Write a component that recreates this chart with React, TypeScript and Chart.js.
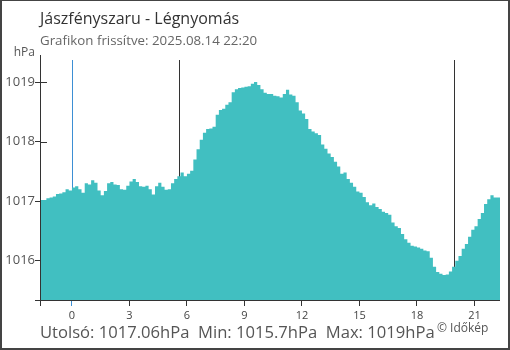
import React, { useEffect, useRef } from "react";
import { Chart, registerables } from "chart.js";

Chart.register(...registerables);

const TITLE = "Jászfényszaru - Légnyomás";
const SUBTITLE = "Grafikon frissítve: 2025.08.14 22:20";
const UNIT = "hPa";
const COPYRIGHT = "© Időkép";

// Hours relative to midnight; the window starts at 22:20 the previous day, 10-minute samples
const START_HOUR = -5 / 3;
const STEP_HOURS = 1 / 6;
const END_HOUR = 22 + 1 / 3;

const PRESSURE = [
  1017.01, 1017.02, 1017.02, 1017.05, 1017.06, 1017.08, 1017.12, 1017.13, 1017.15, 1017.2,
  1017.18, 1017.23, 1017.25, 1017.2, 1017.14, 1017.3, 1017.28, 1017.35, 1017.31, 1017.18,
  1017.1, 1017.17, 1017.3, 1017.32, 1017.28, 1017.27, 1017.2, 1017.19, 1017.26, 1017.33,
  1017.37, 1017.32, 1017.25, 1017.24, 1017.26, 1017.2, 1017.11, 1017.25, 1017.31, 1017.24,
  1017.19, 1017.2, 1017.3, 1017.37, 1017.42, 1017.48, 1017.42, 1017.46, 1017.51, 1017.7,
  1017.87, 1018.03, 1018.15, 1018.21, 1018.22, 1018.25, 1018.45, 1018.53, 1018.55, 1018.62,
  1018.66, 1018.83, 1018.88, 1018.9, 1018.91, 1018.92, 1018.93, 1018.97, 1019.0, 1018.95,
  1018.88, 1018.82, 1018.8, 1018.8, 1018.77, 1018.76, 1018.74, 1018.8, 1018.87, 1018.79,
  1018.77, 1018.66, 1018.52, 1018.47, 1018.38, 1018.21, 1018.17, 1018.14, 1018.11, 1017.95,
  1017.88, 1017.8, 1017.74, 1017.66, 1017.58, 1017.46, 1017.48, 1017.37, 1017.31, 1017.24,
  1017.16, 1017.14, 1017.07, 1016.98, 1016.93, 1016.96, 1016.9, 1016.87, 1016.82, 1016.8,
  1016.77, 1016.64, 1016.58, 1016.55, 1016.45, 1016.36, 1016.3, 1016.25, 1016.24, 1016.22,
  1016.2, 1016.17, 1016.16, 1016.05, 1015.9, 1015.81, 1015.78, 1015.76, 1015.77, 1015.82,
  1015.9, 1016.0, 1016.08, 1016.2, 1016.28, 1016.4, 1016.52, 1016.58, 1016.7, 1016.8,
  1016.95, 1017.03, 1017.1, 1017.06,
];

const X_TICKS = [0, 3, 6, 9, 12, 15, 18, 21];
const Y_TICKS = [1016, 1017, 1018, 1019];
const Y_MIN = 1015.34;
const Y_MAX = 1019.37;

const MARKERS = [
  { hour: 0, color: "#3d8fd4" },
  { hour: 5.57, color: "#333333" },
  { hour: 19.95, color: "#333333" },
];

const LAST = "1017.06";
const MIN = "1015.7";
const MAX = "1019";

const FONT = "'Open Sans', sans-serif";
const FILL = "#41bfc1";
const AXIS = "#333333";

const customAxes = {
  id: "customAxes",
  beforeDatasetsDraw(chart: any) {
    const { ctx, chartArea, scales } = chart;
    const { left, top, bottom } = chartArea;
    ctx.save();
    ctx.lineWidth = 1;
    MARKERS.forEach((m) => {
      const px = Math.round(scales.x.getPixelForValue(m.hour)) + 0.5;
      ctx.strokeStyle = m.color;
      ctx.beginPath();
      ctx.moveTo(px, top);
      ctx.lineTo(px, bottom);
      ctx.stroke();
    });
    ctx.strokeStyle = AXIS;
    Y_TICKS.forEach((v) => {
      const py = Math.round(scales.y.getPixelForValue(v)) + 0.5;
      ctx.beginPath();
      ctx.moveTo(left, py);
      ctx.lineTo(left + 7, py);
      ctx.stroke();
    });
    ctx.restore();
  },
  afterDatasetsDraw(chart: any) {
    const { ctx, chartArea } = chart;
    const { left, right, top, bottom } = chartArea;
    ctx.save();
    ctx.lineWidth = 1;
    ctx.strokeStyle = AXIS;
    const lx = Math.round(left) + 0.5;
    const by = Math.round(bottom) + 0.5;
    ctx.beginPath();
    ctx.moveTo(lx, top - 5);
    ctx.lineTo(lx, by);
    ctx.moveTo(left - 5, by);
    ctx.lineTo(right, by);
    ctx.stroke();
    ctx.restore();
  },
};

export default function App() {
  const canvasRef = useRef<HTMLCanvasElement | null>(null);

  useEffect(() => {
    if (!canvasRef.current) return;
    const points = PRESSURE.map((v, i) => ({ x: START_HOUR + i * STEP_HOURS, y: v }));
    points.push({ x: END_HOUR, y: PRESSURE[PRESSURE.length - 1] });

    const chart = new Chart(canvasRef.current, {
      type: "line",
      data: {
        datasets: [
          {
            data: points,
            stepped: "after",
            fill: "start",
            backgroundColor: FILL,
            borderColor: "rgba(0,0,0,0)",
            borderWidth: 0,
            pointRadius: 0,
            tension: 0,
          },
        ],
      },
      options: {
        responsive: false,
        maintainAspectRatio: false,
        animation: false,
        devicePixelRatio: 1,
        layout: { padding: { left: 0, top: 60, right: 10, bottom: 0 } },
        plugins: {
          legend: { display: false },
          tooltip: { enabled: false },
          title: { display: false },
        },
        scales: {
          x: {
            type: "linear",
            min: START_HOUR,
            max: END_HOUR,
            border: { display: false },
            grid: {
              display: true,
              drawOnChartArea: false,
              drawTicks: true,
              tickLength: 6,
              color: (c: any) => (c.tick && c.tick.value === 0 ? MARKERS[0].color : AXIS),
            },
            afterBuildTicks: (scale: any) => {
              scale.ticks = [START_HOUR, ...X_TICKS].map((v) => ({ value: v }));
            },
            afterFit: (scale: any) => {
              scale.height = 50;
            },
            ticks: {
              autoSkip: false,
              maxRotation: 0,
              minRotation: 0,
              padding: 3,
              color: "#444444",
              font: { family: FONT, size: 11 },
              callback: (v: any) => (X_TICKS.includes(v) ? String(v) : ""),
            },
          },
          y: {
            type: "linear",
            min: Y_MIN,
            max: Y_MAX,
            border: { display: false },
            grid: {
              display: true,
              drawOnChartArea: false,
              drawTicks: true,
              tickLength: 5,
              color: AXIS,
            },
            afterBuildTicks: (scale: any) => {
              scale.ticks = Y_TICKS.map((v) => ({ value: v }));
            },
            afterFit: (scale: any) => {
              scale.width = 40;
            },
            ticks: {
              padding: 0,
              color: "#555555",
              font: { family: FONT, size: 13 },
              callback: (v: any) => String(v),
            },
          },
        },
      },
      plugins: [customAxes],
    });
    return () => chart.destroy();
  }, []);

  const textBase: React.CSSProperties = {
    position: "absolute",
    fontFamily: FONT,
    lineHeight: 1,
    whiteSpace: "pre",
    margin: 0,
  };

  return (
    <div
      style={{
        position: "fixed",
        left: 0,
        top: 0,
        width: 510,
        height: 350,
        background: "#ffffff",
        overflow: "hidden",
      }}
    >
      <canvas
        ref={canvasRef}
        width={510}
        height={350}
        style={{ position: "absolute", left: 0, top: 0, width: 510, height: 350 }}
      />
      <div style={{ ...textBase, left: 40, top: 10, fontSize: 16, color: "#333333" }}>{TITLE}</div>
      <div style={{ ...textBase, left: 40, top: 34, fontSize: 13.3, color: "#666666" }}>{SUBTITLE}</div>
      <div style={{ ...textBase, right: 475, top: 46, fontSize: 12, color: "#555555" }}>{UNIT}</div>
      <div style={{ ...textBase, left: 40, top: 324, fontSize: 16.6, color: "#555555" }}>
        {`Utolsó: ${LAST}${UNIT}  Min: ${MIN}${UNIT}  Max: ${MAX}${UNIT}`}
      </div>
      <div style={{ ...textBase, left: 437, top: 322, fontSize: 12, color: "#555555" }}>{COPYRIGHT}</div>
      <div
        style={{
          position: "absolute",
          left: 0,
          top: 0,
          width: 510,
          height: 350,
          boxSizing: "border-box",
          borderStyle: "solid",
          borderColor: "#444444",
          borderWidth: "1px 2px 2px 2px",
          pointerEvents: "none",
        }}
      />
    </div>
  );
}
